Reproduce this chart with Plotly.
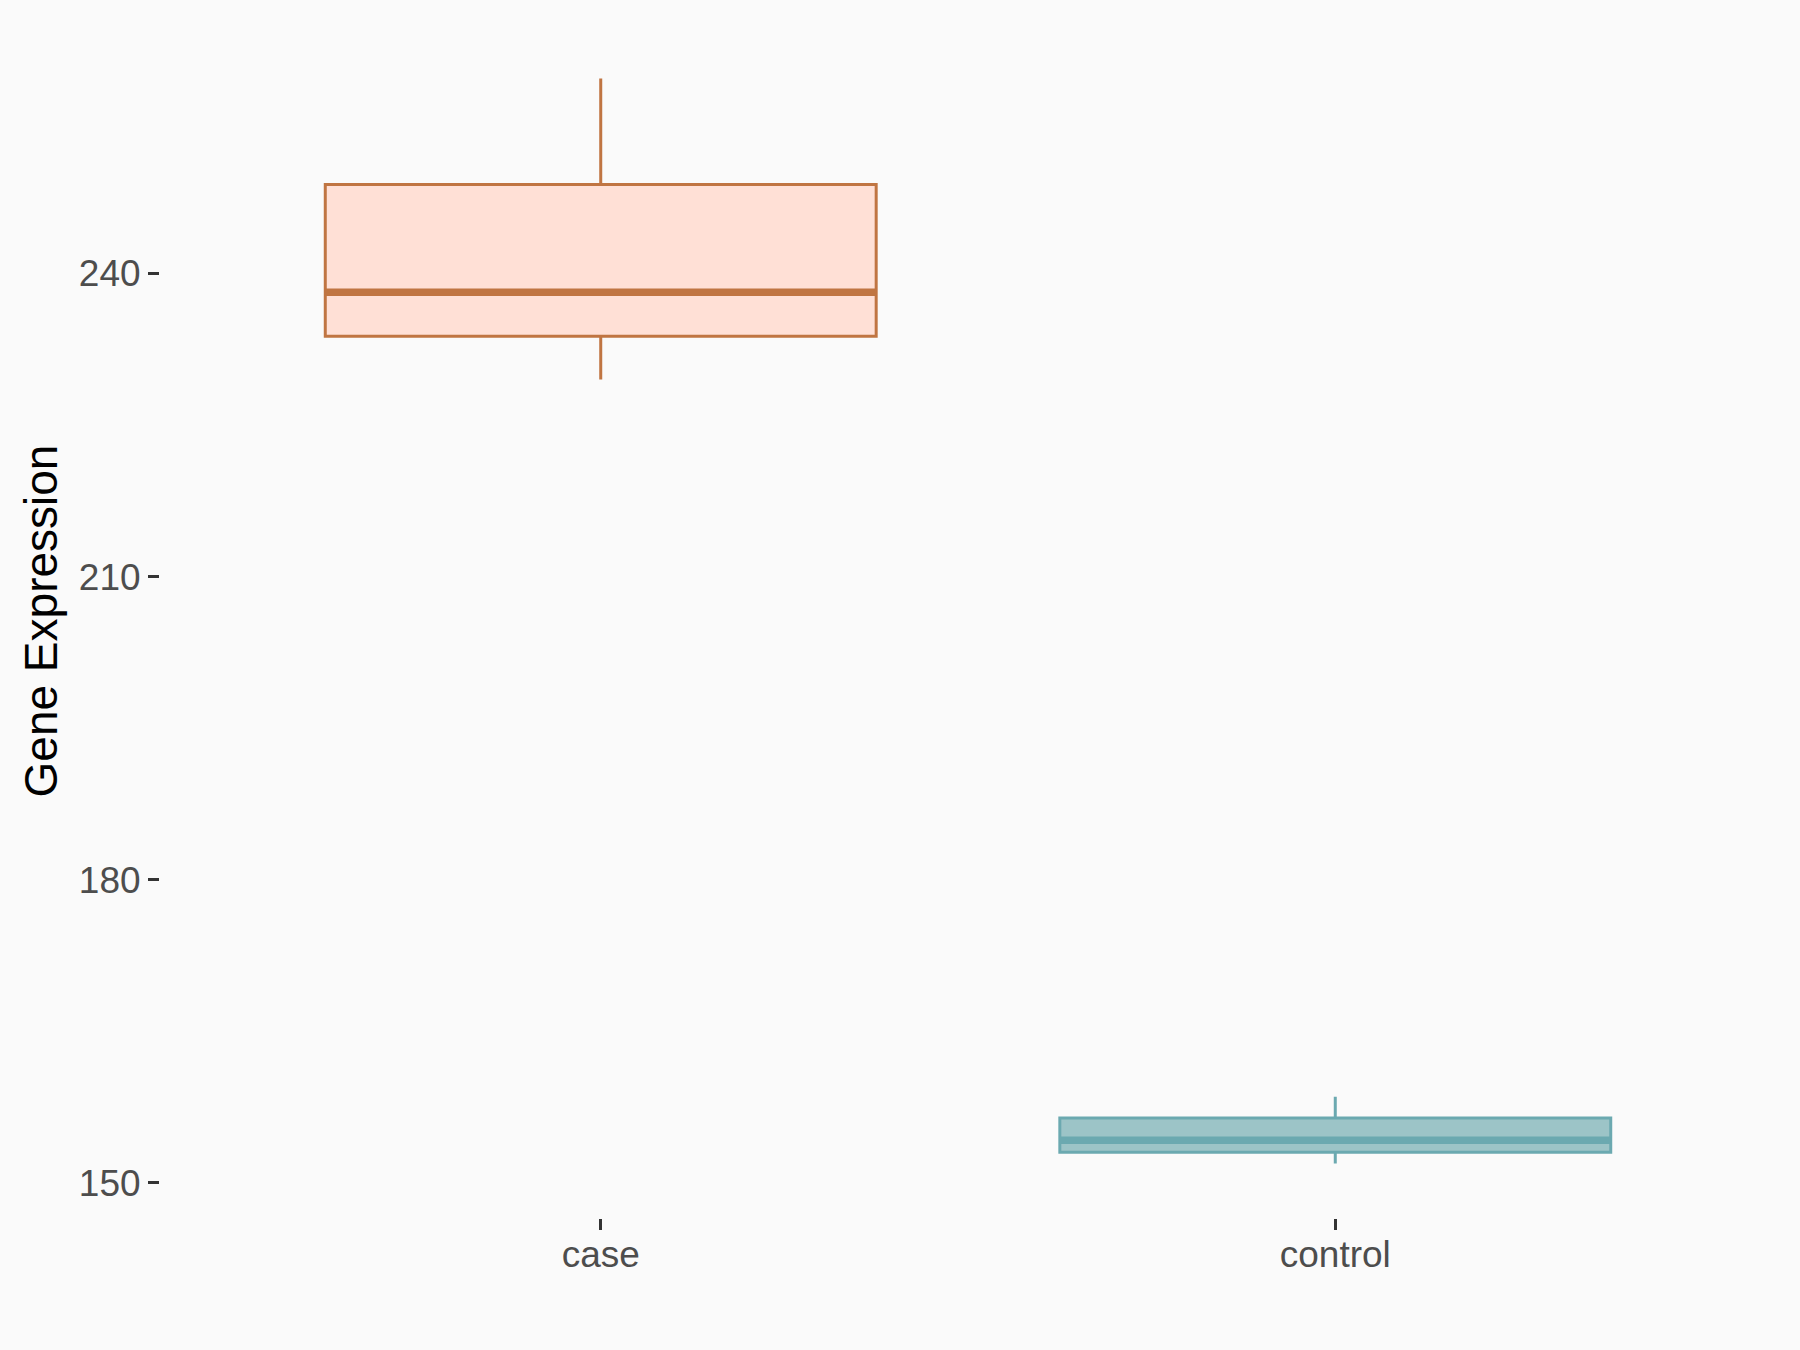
import plotly.graph_objects as go

# ---- data ----
groups = ["case", "control"]
positions = [1, 2]
lower_whisker = [229.5, 151.9]
q1_vals = [233.8, 153.0]
median_vals = [238.15, 154.2]
q3_vals = [248.8, 156.4]
upper_whisker = [259.3, 158.5]
y_ticks = [150, 180, 210, 240]

line_colors = ["#C07542", "#6BA9B0"]
fill_colors = ["#FFE0D6", "#9CC4C7"]
box_width = 0.75

fig = go.Figure()
for i, g in enumerate(groups):
    fig.add_trace(go.Box(
        x=[positions[i]], name=g,
        q1=[q1_vals[i]], median=[median_vals[i]], q3=[q3_vals[i]],
        lowerfence=[lower_whisker[i]], upperfence=[upper_whisker[i]],
        width=box_width, whiskerwidth=0,
        fillcolor=fill_colors[i],
        line=dict(color=line_colors[i], width=3),
        boxpoints=False, showlegend=False, hoverinfo="skip",
    ))
    # thicker median line, as in the reference
    fig.add_shape(type="line", xref="x", yref="y",
                  x0=positions[i] - box_width / 2, x1=positions[i] + box_width / 2,
                  y0=median_vals[i], y1=median_vals[i],
                  line=dict(color=line_colors[i], width=7.5))

fig.update_layout(
    width=1800, height=1350,
    paper_bgcolor="#FAFAFA", plot_bgcolor="#FAFAFA",
    margin=dict(l=160, r=24, t=24, b=132),
    font=dict(family="Liberation Sans, Arial, sans-serif"),
    xaxis=dict(
        range=[0.4, 2.6], tickmode="array", tickvals=positions, ticktext=groups,
        showgrid=False, zeroline=False, showline=False,
        ticks="outside", ticklen=11, tickwidth=3, tickcolor="#333333",
        tickfont=dict(size=37, color="#4D4D4D"),
        ticklabelstandoff=-7,
    ),
    yaxis=dict(
        range=[146.5, 264.7], tickmode="array", tickvals=y_ticks,
        showgrid=False, zeroline=False, showline=False,
        ticks="outside", ticklen=11, tickwidth=3, tickcolor="#333333",
        tickfont=dict(size=37, color="#4D4D4D"),
        title=dict(text="Gene Expression", font=dict(size=46, color="#000000"), standoff=6),
    ),
)

fig.write_html(
    "out.html",
    config={"displayModeBar": False},
    post_script="document.body.style.margin='0';document.body.style.overflow='hidden';",
)
